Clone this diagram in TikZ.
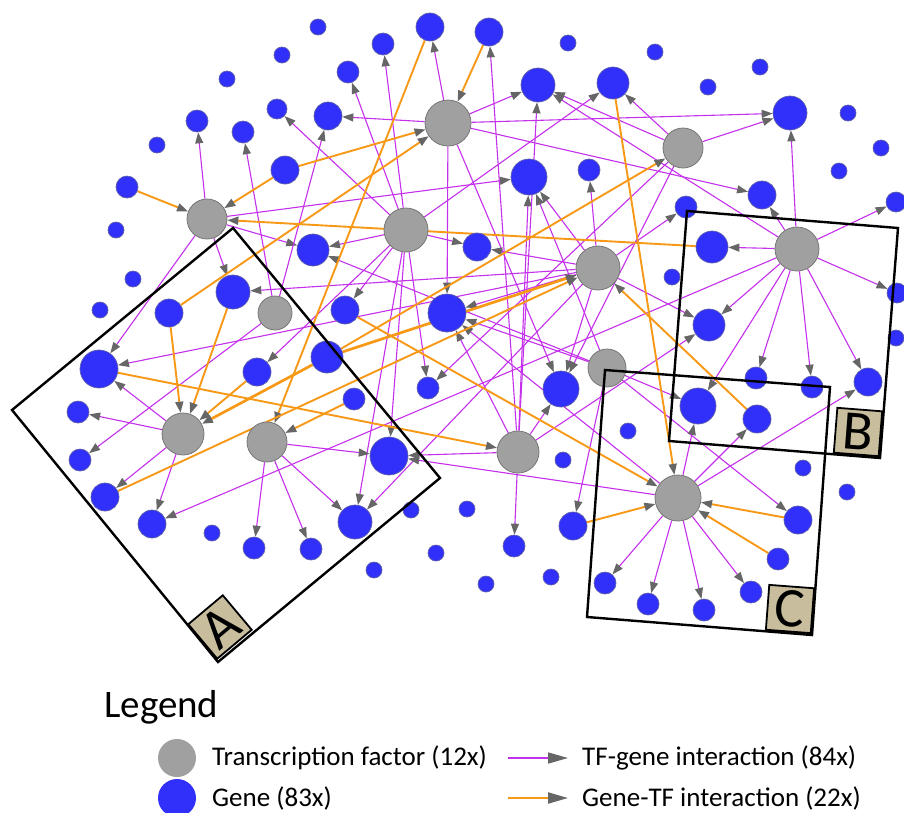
\documentclass[tikz,border=0pt]{standalone}
\usepackage{fontspec}
\setmainfont{Carlito}
\usetikzlibrary{arrows.meta,backgrounds}
\definecolor{genefill}{RGB}{48,48,250}
\definecolor{geneline}{RGB}{95,95,170}
\definecolor{tffill}{RGB}{160,160,160}
\definecolor{tfline}{RGB}{118,118,118}
\definecolor{magc}{RGB}{196,48,236}
\definecolor{orc}{RGB}{247,152,22}
\definecolor{arrowc}{RGB}{102,102,102}
\definecolor{tanc}{RGB}{200,190,158}
\newcommand\mkgene[4]{\node[gene,minimum size=#4pt] (#1) at (#2,#3) {};}
\newcommand\mktf[4]{\node[tfn,minimum size=#4pt] (#1) at (#2,#3) {};}
\begin{document}
\begin{tikzpicture}[x=1pt,y=-1pt,
  gene/.style={circle,fill=genefill,draw=geneline,line width=0.7pt,inner sep=0pt},
  tfn/.style={circle,fill=tffill,draw=tfline,line width=0.8pt,inner sep=0pt},
  tg/.style={draw=magc,line width=1.1pt,-{Triangle[length=11pt,width=8pt,color=arrowc]}},
  gt/.style={draw=orc,line width=1.9pt,-{Triangle[length=11pt,width=8pt,color=arrowc]}},
  gtk/.style={gt,line width=2.7pt},
  boxline/.style={draw=black,line width=2.4pt,line join=miter},
  lab/.style={draw=black,line width=1.8pt,fill=tanc,minimum size=45pt,inner sep=0pt,font=\fontsize{56}{56}\selectfont},
  legtxt/.style={anchor=west,inner sep=0pt,font=\fontsize{27}{32}\selectfont},
  legarrow/.style={-{Triangle[length=20pt,width=11pt,color=arrowc]}}
]
\useasboundingbox (0,0) rectangle (904,812);
% genes
\mkgene{g1}{282}{55}{16}
\mkgene{g2}{227}{79}{16}
\mkgene{g3}{277}{109}{20}
\mkgene{g4}{197}{121}{22}
\mkgene{g5}{243}{132}{22}
\mkgene{g6}{157}{145}{16}
\mkgene{g7}{285}{170}{28}
\mkgene{g8}{127}{187}{22}
\mkgene{g9}{116}{230}{16}
\mkgene{g10}{318}{27}{16}
\mkgene{g11}{430}{27}{28}
\mkgene{g12}{489}{32}{28}
\mkgene{g13}{383}{44}{22}
\mkgene{g14}{568}{43}{16}
\mkgene{g15}{348}{72}{22}
\mkgene{g16}{538}{85}{34}
\mkgene{g17}{328}{116}{28}
\mkgene{g18}{529}{177}{36}
\mkgene{g19}{589}{170}{22}
\mkgene{g20}{313}{250}{32}
\mkgene{g21}{477}{247}{28}
\mkgene{g22}{655}{52}{16}
\mkgene{g23}{760}{67}{16}
\mkgene{g24}{708}{87}{16}
\mkgene{g25}{613}{83}{32}
\mkgene{g26}{790}{113}{34}
\mkgene{g27}{848}{113}{16}
\mkgene{g28}{881}{148}{16}
\mkgene{g29}{839}{171}{16}
\mkgene{g30}{762}{195}{28}
\mkgene{g31}{686}{207}{22}
\mkgene{g32}{712}{247}{32}
\mkgene{g33}{896}{202}{20}
\mkgene{g34}{133}{279}{16}
\mkgene{g35}{100}{310}{16}
\mkgene{g36}{169}{313}{28}
\mkgene{g37}{233}{292}{34}
\mkgene{g38}{99}{369}{38}
\mkgene{g39}{257}{372}{28}
\mkgene{g40}{78}{412}{22}
\mkgene{g41}{80}{460}{22}
\mkgene{g42}{105}{497}{28}
\mkgene{g43}{152}{524}{28}
\mkgene{g44}{212}{533}{16}
\mkgene{g45}{345}{310}{28}
\mkgene{g46}{447}{313}{38}
\mkgene{g47}{327}{357}{32}
\mkgene{g48}{354}{399}{22}
\mkgene{g49}{428}{388}{22}
\mkgene{g50}{561}{389}{36}
\mkgene{g51}{389}{456}{38}
\mkgene{g52}{563}{460}{16}
\mkgene{g53}{355}{522}{34}
\mkgene{g54}{411}{510}{16}
\mkgene{g55}{467}{509}{16}
\mkgene{g56}{573}{526}{28}
\mkgene{g57}{672}{277}{16}
\mkgene{g58}{709}{325}{32}
\mkgene{g59}{897}{293}{20}
\mkgene{g60}{896}{338}{16}
\mkgene{g61}{756}{378}{22}
\mkgene{g62}{812}{387}{22}
\mkgene{g63}{868}{382}{28}
\mkgene{g64}{698}{406}{36}
\mkgene{g65}{757}{419}{28}
\mkgene{g66}{628}{431}{16}
\mkgene{g67}{803}{468}{16}
\mkgene{g68}{847}{492}{16}
\mkgene{g69}{798}{520}{28}
\mkgene{g70}{254}{548}{22}
\mkgene{g71}{311}{549}{22}
\mkgene{g72}{374}{570}{16}
\mkgene{g73}{436}{553}{16}
\mkgene{g74}{514}{546}{22}
\mkgene{g75}{486}{584}{16}
\mkgene{g76}{551}{577}{16}
\mkgene{g77}{605}{583}{22}
\mkgene{g78}{648}{604}{22}
\mkgene{g79}{704}{610}{22}
\mkgene{g80}{751}{592}{22}
\mkgene{g81}{778}{559}{22}
% transcription factors
\mktf{T1}{207}{219}{40}
\mktf{T2}{448}{123}{46}
\mktf{T3}{406}{230}{44}
\mktf{T4}{683}{148}{40}
\mktf{T5}{598}{268}{44}
\mktf{T6}{797}{249}{44}
\mktf{T7}{275}{313}{34}
\mktf{T8}{183}{434}{42}
\mktf{T9}{267}{442}{40}
\mktf{T10}{607}{368}{38}
\mktf{T11}{518}{452}{42}
\mktf{T12}{678}{498}{46}
\begin{pgfonlayer}{background}
% TF -> gene (magenta)
\foreach \s/\t in {T1/g4,T1/g20,T1/g18,T1/g37,T1/g38,
  T2/g11,T2/g17,T2/g26,T2/g16,T2/g30,T2/g46,T2/g50,
  T3/g13,T3/g15,T3/g3,T3/g20,T3/g21,T3/g25,T3/g39,T3/g45,T3/g49,T3/g51,T3/g53,
  T4/g16,T4/g25,T4/g26,T4/g50,T4/g49,
  T5/g19,T5/g18,T5/g31,T5/g46,T5/g50,T5/g58,T5/g38,T5/g37,T5/g53,T5/g21,
  T6/g30,T6/g26,T6/g32,T6/g33,T6/g59,T6/g58,T6/g61,T6/g62,T6/g63,T6/g64,T6/g16,T6/g43,
  T7/g5,T7/g17,T7/g41,
  T8/g38,T8/g40,T8/g42,T8/g43,
  T9/g70,T9/g71,T9/g53,T9/g51,
  T10/g18,T10/g46,T10/g64,T10/g69,T10/g56,T10/g20,
  T11/g12,T11/g18,T11/g46,T11/g50,T11/g58,T11/g74,T11/g16,T11/g51,
  T12/g77,T12/g78,T12/g79,T12/g80,T12/g64,T12/g65,T12/g63,T12/g51,T12/g46}
  {\draw[tg] (\s) -- (\t);}
% gene -> TF (orange)
\foreach \s/\t in {g8/T1,g7/T1,g32/T1,g7/T2,g36/T2,g12/T2,g11/T9,g37/T8,g36/T8,
  g39/T8,g38/T11,g42/T5,g45/T12,g47/T4,g25/T12,g69/T12,g81/T12,g56/T12,g65/T5,g48/T9}
  {\draw[gt] (\s) -- (\t);}
\draw[gtk] (g47) -- (T8);
\draw[gtk] (g47) -- (T5);
\end{pgfonlayer}
% boxes
\draw[boxline] (233,228) -- (440,478) -- (218,662) -- (12,410) -- cycle;
\node[lab,rotate=40] (labA) at (220,627) {A};
\draw[boxline] (687,211) -- (898,228) -- (880,458) -- (669,441) -- cycle;
\node[lab,rotate=-4.5] (labB) at (858,432) {B};
\draw[boxline] (605,370) -- (830,387) -- (812,635) -- (587,617) -- cycle;
\node[lab,rotate=-4.3] (labC) at (790,609) {C};
% legend
\node[anchor=west,inner sep=0pt,font=\fontsize{39}{44}\selectfont] (legt) at (104,707) {Legend};
\node[circle,fill=tffill,inner sep=0pt,minimum size=38pt] (ltf) at (177,758) {};
\node[circle,fill=genefill,inner sep=0pt,minimum size=38pt] (lgn) at (177,798) {};
\node[legtxt] (ltft) at (212,758) {Transcription factor (12x)};
\node[legtxt] (lgnt) at (212,798) {Gene (83x)};
\coordinate (la1) at (508,758);
\coordinate (la2) at (568,758);
\coordinate (lb1) at (508,798);
\coordinate (lb2) at (568,798);
\draw[draw=magc,line width=1.5pt,legarrow] (la1) -- (la2);
\draw[draw=orc,line width=2pt,legarrow] (lb1) -- (lb2);
\node[legtxt] (ltg) at (582,758) {TF-gene interaction (84x)};
\node[legtxt] (lgt) at (582,798) {Gene-TF interaction (22x)};
\end{tikzpicture}
\end{document}
